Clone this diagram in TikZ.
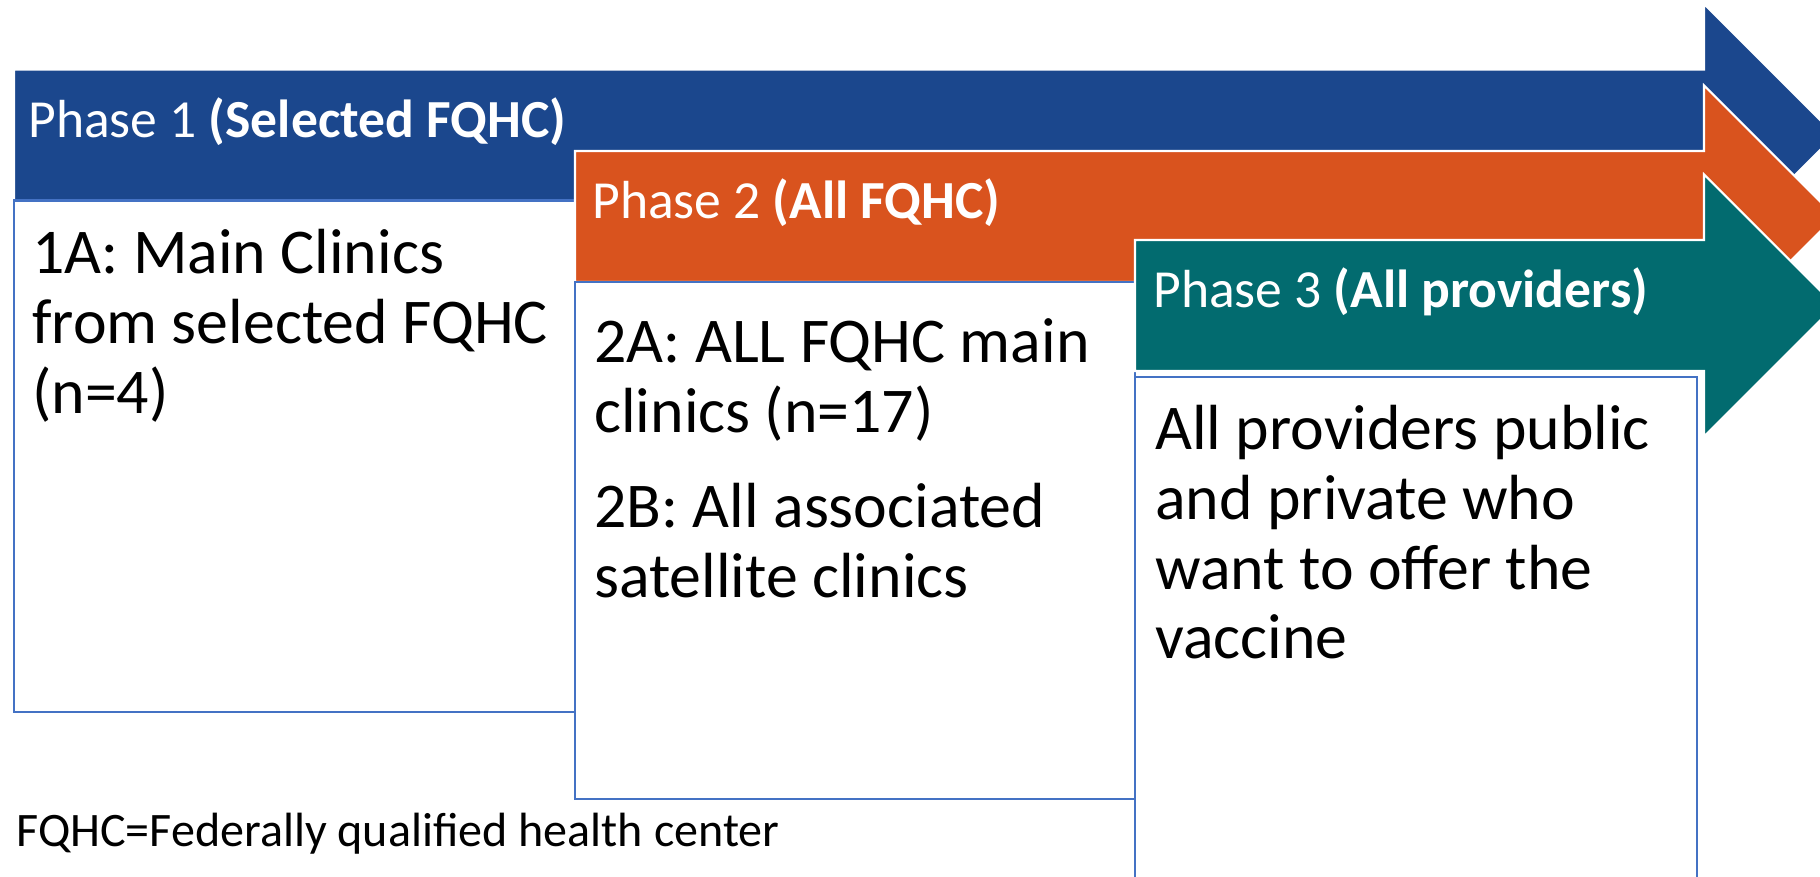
\documentclass[tikz,border=0pt]{standalone}
\usepackage{fontspec}
\setmainfont{Carlito}
\definecolor{phaseblue}{RGB}{27,71,141}
\definecolor{phaseorange}{RGB}{217,83,30}
\definecolor{phaseteal}{RGB}{2,107,111}
\definecolor{boxblue}{RGB}{68,114,196}

\begin{document}
\begin{tikzpicture}[
  phasearrow/.style={draw=white,line width=1.2pt,line join=miter},
  phasebox/.style={draw=boxblue,line width=1.2pt,fill=white},
  head/.style={anchor=base west,inner sep=0pt,text=white,font=\fontsize{30.5}{34}\selectfont},
  body/.style={anchor=base west,inner sep=0pt,align=left,font=\fontsize{36.3}{39.7}\selectfont}
]
\useasboundingbox (0,0) rectangle (36.4,17.52);
\clip (0,0) rectangle (36.4,17.52);

% phase 1
\filldraw[phasearrow,fill=phaseblue] (0.28,13.51) -- (0.28,16.13) -- (34.08,16.13) -- (34.08,17.44)
  -- (36.7,14.82) -- (34.08,12.2) -- (34.08,13.51) -- cycle;
\draw[phasebox] (0.28,3.28) rectangle (11.5,13.51);

% phase 2
\filldraw[phasearrow,fill=phaseorange] (11.5,11.88) -- (11.5,14.5) -- (34.08,14.5) -- (34.08,15.81)
  -- (36.7,13.19) -- (34.08,10.57) -- (34.08,11.88) -- cycle;
\draw[phasebox] (11.5,1.54) rectangle (22.7,11.88);

% phase 3
\filldraw[phasearrow,fill=phaseteal] (22.7,10.1) -- (22.7,12.72) -- (34.08,12.72) -- (34.08,14.03)
  -- (36.7,11.41) -- (34.08,8.79) -- (34.08,10.1) -- cycle;
\draw[phasebox] (22.7,-0.5) rectangle (33.94,9.98);

\node[head] (p1) at (0.56,14.77) {Phase 1 \textbf{(Selected FQHC)}};
\node[head] (p2) at (11.84,13.14) {Phase 2 \textbf{(All FQHC)}};
\node[head] (p3) at (23.06,11.36) {Phase 3 \textbf{(All providers)}};

% base anchor sits on the last line
\node[body] (b1) at (0.64,9.25) {1A: Main Clinics\\from selected FQHC\\(n=4)};
\node[body] (b2a) at (11.88,8.87) {2A: ALL FQHC main\\clinics (n=17)};
\node[body] (b2b) at (11.88,5.57) {2B: All associated\\satellite clinics};
\node[body] (b3) at (23.1,4.34) {All providers public\\and private who\\want to offer the\\vaccine};

\node[anchor=base west,inner sep=0pt,font=\fontsize{27.35}{32}\selectfont] (note) at (0.32,0.6) {FQHC=Federally qualified health center};
\end{tikzpicture}
\end{document}
